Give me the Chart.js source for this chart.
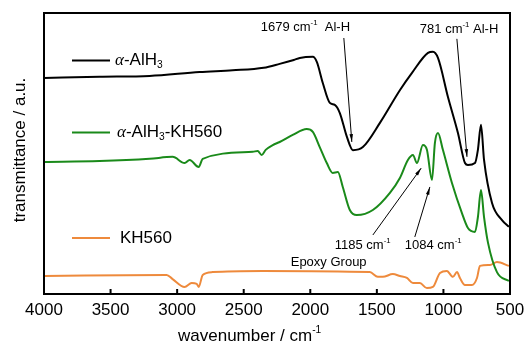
<!DOCTYPE html>
<html>
<head>
<meta charset="utf-8">
<script src="https://cdn.jsdelivr.net/npm/chart.js@4.4.0/dist/chart.umd.min.js"></script>
<style>
html,body{margin:0;padding:0;background:#fff;}
</style>
</head>
<body>
<canvas id="myChart1" width="528" height="344"></canvas>
<script>
// FTIR spectra, wavenumber (cm-1) vs transmittance (a.u.)
var alhWn = [4000,3583,3207,2831,2583,2350,2230,2124,2079,1981,1951,1906,1853,1816,1778,1725,1680,1605,1477,1326,1236,1116,1079,1041,966,891,838,816,763,741,718,695,635,560,508];
var alhT  = [76.9,77.3,77.6,79.0,79.6,80.5,81.9,83.3,84.0,84.4,82.6,75.1,68.0,67.3,64.4,55.9,51.2,52.3,60.9,72.6,78.7,85.8,86.2,84.0,70.1,57.3,46.6,45.9,46.6,51.3,60.2,47.7,32.4,26.3,23.9];

var mixWn = [4000,3583,3207,3034,2944,2906,2838,2808,2432,2395,2365,2335,2282,2230,2132,2027,1981,1929,1876,1831,1793,1756,1703,1651,1530,1402,1327,1267,1229,1199,1154,1124,1086,1064,1041,1004,936,861,816,763,741,718,695,665,598,508];
var mixT  = [47.0,47.3,48.1,48.8,46.6,47.7,45.2,48.1,50.6,50.9,49.5,51.3,53.0,54.1,56.6,58.7,57.7,52.3,46.6,43.1,43.4,38.1,29.9,28.1,29.9,36.0,41.3,47.7,49.5,46.6,53.0,51.3,40.6,53.8,57.3,51.3,39.5,28.8,23.5,22.1,27.4,37.0,27.4,18.2,7.8,4.6];

var khWn = [4000,3079,3034,2944,2891,2853,2838,2808,2733,2357,1553,1493,1455,1380,1327,1274,1229,1177,1124,1079,1026,974,929,898,876,838,786,748,726,650,598,508];
var khT  = [6.4,6.8,5.3,2.5,3.9,3.6,2.5,6.8,7.8,8.2,7.8,6.1,6.1,7.1,6.4,5.7,3.9,3.9,2.1,2.5,7.5,8.2,6.1,7.8,5.7,3.2,3.2,5.7,10.0,10.3,11.4,10.0];

var xTicks = [4000,3500,3000,2500,2000,1500,1000,500];

function pts(wn, t) {
    var out = [];
    for (var i = 0; i < wn.length; i++) out.push({x: wn[i], y: t[i]});
    return out;
}

var FONT = '"Liberation Sans", Arial, sans-serif';

// draw a run of text pieces: n = normal, sup, sub, it = italic greek
function richText(c, x, y, parts, size) {
    c.textBaseline = 'middle';
    c.textAlign = 'left';
    for (var i = 0; i < parts.length; i++) {
        var p = parts[i];
        var s = (p[1] == 'sup' || p[1] == 'sub') ? size * 0.6 : size;
        var dy = p[1] == 'sup' ? -size * 0.35 : (p[1] == 'sub' ? size * 0.3 : 0);
        c.font = p[1] == 'it' ? 'italic ' + s + 'px "Liberation Serif", serif' : s + 'px ' + FONT;
        c.fillText(p[0], x, y + dy);
        x += c.measureText(p[0]).width;
    }
}

function arrow(c, x1, y1, x2, y2) {
    var ang = Math.atan2(y2 - y1, x2 - x1);
    c.beginPath();
    c.moveTo(x1, y1);
    c.lineTo(x2, y2);
    c.stroke();
    c.beginPath();
    c.moveTo(x2, y2);
    c.lineTo(x2 - 8 * Math.cos(ang - 0.22), y2 - 8 * Math.sin(ang - 0.22));
    c.lineTo(x2 - 8 * Math.cos(ang + 0.22), y2 - 8 * Math.sin(ang + 0.22));
    c.closePath();
    c.fill();
}

var extras = {
    id: 'extras',
    afterDraw: function(chart) {
        var c = chart.ctx, a = chart.chartArea, xs = chart.scales.x, ys = chart.scales.y;
        var X = function(v){ return xs.getPixelForValue(v); };
        var Y = function(v){ return ys.getPixelForValue(v); };
        c.save();
        c.strokeStyle = '#000';
        c.fillStyle = '#000';
        c.lineWidth = 2;
        c.strokeRect(a.left, a.top, a.right - a.left, a.bottom - a.top);
        for (var i = 1; i < xTicks.length - 1; i++) {
            c.beginPath();
            c.moveTo(X(xTicks[i]), a.bottom);
            c.lineTo(X(xTicks[i]), a.bottom - 5);
            c.stroke();
        }

        // legend
        var leg = [['#000', 60.5, [['\u03b1','it'],['-AlH','n'],['3','sub']]],
                   ['#1a8a1a', 132.5, [['\u03b1','it'],['-AlH','n'],['3','sub'],['-KH560','n']]],
                   ['#ee8a3c', 238, [['KH560','n']]]];
        leg.forEach(function(l, k){
            c.strokeStyle = l[0];
            c.beginPath();
            c.moveTo(a.left + 28, l[1]);
            c.lineTo(a.left + 66, l[1]);
            c.stroke();
            c.fillStyle = '#000';
            richText(c, a.left + 71 + (k == 1 ? 2 : 0) + (k == 2 ? 5 : 0), l[1], l[2], 17);
        });

        // annotations
        c.strokeStyle = '#000';
        c.fillStyle = '#000';
        c.lineWidth = 1;
        richText(c, X(2372), Y(95.0), [['1679 cm','n'],['-1','sup'],['  Al-H','n']], 13);
        richText(c, X(1177), Y(94.0), [['781 cm','n'],['-1','sup'],[' Al-H','n']], 13);
        richText(c, X(1816), Y(17.4), [['1185 cm','n'],['-1','sup']], 13);
        richText(c, X(1290), Y(17.4), [['1084 cm','n'],['-1','sup']], 13);
        richText(c, X(2147), Y(11.4), [['Epoxy Group','n']], 13);
        arrow(c, X(1748), Y(91.1), X(1688), Y(54.1));
        arrow(c, X(899), Y(90.8), X(823), Y(48.8));
        arrow(c, X(1530), Y(21.0), X(1167), Y(44.8));
        arrow(c, X(1215), Y(20.3), X(1102), Y(38.1));

        // axis titles
        richText(c, 178, 336, [['wavenumber / cm','n'],['-1','sup']], 17);
        c.translate(20, 150);
        c.rotate(-Math.PI / 2);
        c.font = '17px ' + FONT;
        c.textAlign = 'center';
        c.textBaseline = 'middle';
        c.fillText('transmittance / a.u.', 0, 0);
        c.restore();
    }
};

var ctx1 = document.getElementById('myChart1').getContext('2d');
var myNewChart1 = new Chart(ctx1, {
    type: 'line',
    data: {
        datasets: [
            {label: '\u03b1-AlH3', data: pts(alhWn, alhT), borderColor: '#000', borderWidth: 2},
            {label: '\u03b1-AlH3-KH560', data: pts(mixWn, mixT), borderColor: '#1a8a1a', borderWidth: 2},
            {label: 'KH560', data: pts(khWn, khT), borderColor: '#ee8a3c', borderWidth: 2}
        ]
    },
    options: {
        responsive: false,
        animation: false,
        layout: {padding: {left: 44, right: 18, top: 13, bottom: 15}},
        elements: {point: {radius: 0}, line: {cubicInterpolationMode: 'monotone'}},
        plugins: {legend: {display: false}, tooltip: {enabled: false}},
        scales: {
            x: {
                type: 'linear', reverse: true, min: 500, max: 4000,
                grid: {display: false, drawTicks: false},
                border: {display: false},
                ticks: {stepSize: 500, padding: 6, color: '#000', font: {family: FONT, size: 17},
                        callback: function(v){ return String(v); }},
                afterFit: function(s){ s.height = 35; s.paddingLeft = 0; s.paddingRight = 0; }
            },
            y: {
                min: 0, max: 100,
                display: false
            }
        }
    },
    plugins: [extras]
});
</script>
</body>
</html>
